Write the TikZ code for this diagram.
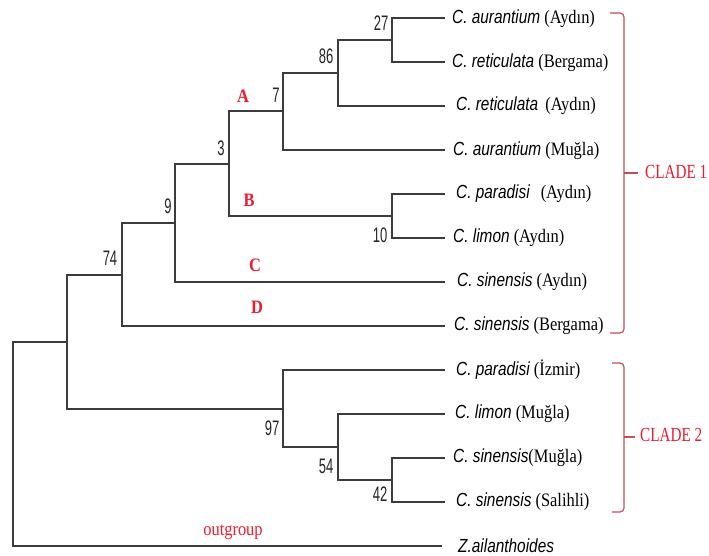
\documentclass[tikz,border=0pt]{standalone}
\usepackage{fontspec}
\setmainfont{Liberation Serif}[FakeStretch=0.865]
\newfontfamily\spfont{Liberation Sans}[FakeStretch=0.81]
\newfontfamily\bsfont{Liberation Sans}[FakeStretch=0.62]
\newfontfamily\cladefont{Liberation Serif}[FakeStretch=0.76]
\definecolor{treegray}{RGB}{60,60,60}
\definecolor{labred}{RGB}{236,28,48}
\definecolor{brkred}{RGB}{198,78,88}
\newcommand\species[1]{{\spfont\itshape #1}}

\begin{document}
\begin{tikzpicture}[x=1pt,y=-1pt,
  branch/.style={draw=treegray,line width=2pt,line join=miter},
  leaflabel/.style={anchor=west,inner sep=0pt,font=\fontsize{19}{22}\selectfont},
  boot/.style={inner sep=0pt,text=black!85,font=\bsfont\fontsize{21}{24}\selectfont},
  lettr/.style={inner sep=0pt,text=labred,font=\bfseries\fontsize{19}{22}\selectfont},
  cladelabel/.style={anchor=west,inner sep=0pt,text=labred,font=\cladefont\fontsize{20}{24}\selectfont},
  brk/.style={draw=brkred,line width=1.2pt}]

\fill[white] (0,0) rectangle (709,556);
\useasboundingbox (0,0) rectangle (709,556);

% tip ends of the terminal branches
\coordinate (e1)  at (445,18);
\coordinate (e2)  at (445,62);
\coordinate (e3)  at (445,106);
\coordinate (e4)  at (445,150);
\coordinate (e5)  at (445,194);
\coordinate (e6)  at (445,238);
\coordinate (e7)  at (445,282);
\coordinate (e8)  at (445,326);
\coordinate (e9)  at (445,370);
\coordinate (e10) at (445,414);
\coordinate (e11) at (445,458);
\coordinate (e12) at (445,502);
\coordinate (e13) at (442,546);

% internal nodes (x = node depth, y = midpoint of children)
\coordinate (n27)  at (392,40);
\coordinate (n86)  at (338,73);
\coordinate (n7)   at (283,111.5);
\coordinate (n10)  at (392,216);
\coordinate (n3)   at (229,164);
\coordinate (n9)   at (175,223);
\coordinate (n74)  at (122,274.5);
\coordinate (n42)  at (392,480);
\coordinate (n54)  at (338,447);
\coordinate (n97)  at (283,408.5);
\coordinate (nin)  at (67,341.5);
\coordinate (root) at (13,444);

% branches
\draw[branch] (e1)  -| (n27) |- (e2);
\draw[branch] (n27) -| (n86) |- (e3);
\draw[branch] (n86) -| (n7)  |- (e4);
\draw[branch] (e5)  -| (n10) |- (e6);
\draw[branch] (n7)  -| (n3)  |- (n10);
\draw[branch] (n3)  -| (n9)  |- (e7);
\draw[branch] (n9)  -| (n74) |- (e8);
\draw[branch] (e11) -| (n42) |- (e12);
\draw[branch] (e10) -| (n54) |- (n42);
\draw[branch] (e9)  -| (n97) |- (n54);
\draw[branch] (n74) -| (nin) |- (n97);
\draw[branch] (nin) -| (root) |- (e13);

% bootstrap values
\node[boot] (b27) at (381,23)  {27};
\node[boot] (b86) at (326,56)  {86};
\node[boot] (b7)  at (276,95)  {7};
\node[boot] (b3)  at (221,148) {3};
\node[boot] (b9)  at (168,206) {9};
\node[boot] (b74) at (110,258) {74};
\node[boot] (b10) at (380,235) {10};
\node[boot] (b97) at (272,428) {97};
\node[boot] (b54) at (326,466) {54};
\node[boot] (b42) at (380,494) {42};

% branch letters
\node[lettr] (la) at (243,96)  {A};
\node[lettr] (lb) at (249,200) {B};
\node[lettr] (lc) at (255,265) {C};
\node[lettr] (ld) at (257,307) {D};
\node[inner sep=0pt,text=labred,font=\fontsize{19}{22}\selectfont] (og) at (233,532) {outgroup};

% taxon labels
\node[leaflabel] (t1)  at (452,19)  {\species{C. aurantium} (Aydın)};
\node[leaflabel] (t2)  at (452,63)  {\species{C. reticulata} (Bergama)};
\node[leaflabel] (t3)  at (456,106) {\species{C. reticulata}\hspace{7pt}(Aydın)};
\node[leaflabel] (t4)  at (453,151) {\species{C. aurantium} (Muğla)};
\node[leaflabel] (t5)  at (456,194) {\species{C. paradisi}\hspace{11pt}(Aydın)};
\node[leaflabel] (t6)  at (453,238) {\species{C. limon} (Aydın)};
\node[leaflabel] (t7)  at (457,282) {\species{C. sinensis} (Aydın)};
\node[leaflabel] (t8)  at (454,326) {\species{C. sinensis} (Bergama)};
\node[leaflabel] (t9)  at (456,370) {\species{C. paradisi} (İzmir)};
\node[leaflabel] (t10) at (455,414) {\species{C. limon} (Muğla)};
\node[leaflabel] (t11) at (453,458) {\species{C. sinensis}(Muğla)};
\node[leaflabel] (t12) at (456,502) {\species{C. sinensis} (Salihli)};
\node[leaflabel] (t13) at (458,546) {\species{Z.ailanthoides}};

% clade brackets
\coordinate (c1a) at (610,13);
\coordinate (c1b) at (610,333);
\coordinate (c1m) at (624,173);
\coordinate (c1t) at (638,173);
\draw[brk] (c1a) -- (620,13) to[out=0,in=90] (624,17) -- (624,329)
  to[out=-90,in=0] (620,333) -- (c1b);
\draw[brk,line width=2.4pt] (c1m) -- (c1t);
\node[cladelabel] (clade1) at (645,172) {CLADE 1};

\coordinate (c2a) at (612,363);
\coordinate (c2b) at (612,512);
\coordinate (c2m) at (624,437);
\coordinate (c2t) at (635,437);
\draw[brk] (c2a) -- (620,363) to[out=0,in=90] (624,367) -- (624,508)
  to[out=-90,in=0] (620,512) -- (c2b);
\draw[brk,line width=2.4pt] (c2m) -- (c2t);
\node[cladelabel] (clade2) at (640,435) {CLADE 2};
\end{tikzpicture}
\end{document}
